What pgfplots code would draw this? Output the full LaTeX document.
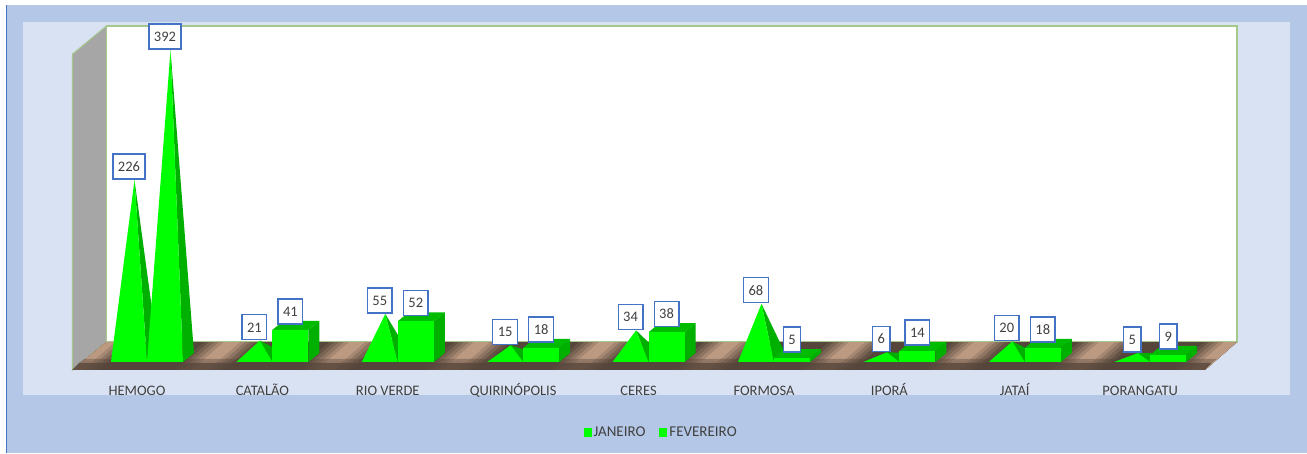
\documentclass[border=0pt]{standalone}
\usepackage{pgfplots}
\pgfplotsset{compat=1.18}
\usepackage{pgfplotstable}
\usepackage{fontspec}
\setmainfont{Carlito}
\definecolor{outer}{HTML}{B4C7E7}
\definecolor{inner}{HTML}{D9E2F3}
\definecolor{edgeb}{HTML}{4472C4}
\definecolor{wallg}{HTML}{A5C88C}
\definecolor{grayw}{HTML}{A6A6A6}
\definecolor{lime}{HTML}{00FF00}
\definecolor{limed}{HTML}{00B000}
\definecolor{tanc}{HTML}{BC9A82}
\definecolor{brn}{HTML}{55453A}
\definecolor{txt}{HTML}{404040}

\pgfplotstableread{
x y
0 226
1 21
2 55
3 15
4 34
5 68
6 6
7 20
8 5
}\janeiro
\pgfplotstableread{
x y
0 392
1 41
2 52
3 18
4 38
5 5
6 14
7 18
8 9
}\fevereiro

% one unit of x = 125.4 px, one unit of y = 0.783 px
\newcommand{\U}{125.4}
\newcommand{\V}{0.783}
% pyramid: #1 category, #2 -1 for first bar / 0 for second, #3 value
\newcommand{\pyr}[3]{%
  \pgfmathsetmacro\xa{#1+#2*36/\U}%
  \pgfmathsetmacro\xb{\xa+36/\U}%
  \pgfmathsetmacro\xc{\xb+11/\U}%
  \pgfmathsetmacro\xt{\xa+23.5/\U}%
  \pgfmathsetmacro\yt{#3+5/\V}%
  \pgfmathsetmacro\yc{9/\V}%
  \edef\tmp{%
  \noexpand\addplot[draw=none,fill=limed,forget plot] coordinates {(\xt,\yt) (\xb,0) (\xc,\yc)} --cycle;
  \noexpand\addplot[draw=none,fill=lime,forget plot] coordinates {(\xa,0) (\xb,0) (\xt,\yt)} --cycle;}%
  \tmp}
% box
\newcommand{\cub}[3]{%
  \pgfmathsetmacro\xa{#1+#2*36/\U}%
  \pgfmathsetmacro\xb{\xa+36/\U}%
  \pgfmathsetmacro\xc{\xb+11/\U}%
  \pgfmathsetmacro\xd{\xa+11/\U}%
  \pgfmathsetmacro\yc{9/\V}%
  \pgfmathsetmacro\yt{#3+9/\V}%
  \edef\tmp{%
  \noexpand\addplot[draw=none,fill=limed,forget plot] coordinates {(\xb,0) (\xc,\yc) (\xc,\yt) (\xb,#3)} --cycle;
  \noexpand\addplot[draw=none,fill=limed!85!lime,forget plot] coordinates {(\xa,#3) (\xb,#3) (\xc,\yt) (\xd,\yt)} --cycle;
  \noexpand\addplot[draw=none,fill=lime,forget plot] coordinates {(\xa,0) (\xb,0) (\xb,#3) (\xa,#3)} --cycle;}%
  \tmp}
% floor texture slice: #1 to #2 px on the front edge, #3 percentage of tan
\newcommand{\band}[3]{%
  \pgfmathsetmacro\sa{(#1-147)/\U}%
  \pgfmathsetmacro\sb{(#2-147)/\U}%
  \pgfmathsetmacro\sc{(#1+32-147)/\U}%
  \pgfmathsetmacro\sd{(#2+32-147)/\U}%
  \edef\tmp{\noexpand\fill[tanc!#3!brn] (axis cs:\sa,-10.2) -- (axis cs:\sb,-10.2) -- (axis cs:\sd,25.5) -- (axis cs:\sc,25.5) -- cycle;}%
  \tmp}
% one period of the texture around a tan band centred at #1
\newcommand{\period}[1]{%
  \pgfmathsetmacro\pa{#1-28}\pgfmathsetmacro\pb{#1-23}\pgfmathsetmacro\pc{#1-18}\pgfmathsetmacro\pd{#1-13}\pgfmathsetmacro\pe{#1-8}%
  \pgfmathsetmacro\qa{#1+8}\pgfmathsetmacro\qb{#1+13}\pgfmathsetmacro\qc{#1+18}\pgfmathsetmacro\qd{#1+23}\pgfmathsetmacro\qe{#1+28}%
  \band{\pa}{\qe}{15}\band{\pb}{\qd}{35}\band{\pc}{\qc}{55}\band{\pd}{\qb}{78}\band{\pe}{\qa}{100}}

\begin{document}
\begin{tikzpicture}
\path[use as bounding box] (0,0) rectangle (1307pt,453pt);
\fill[white] (0,0) rectangle (1307pt,453pt);
\fill[outer] (6pt,0) rectangle (1307pt,448pt);
\fill[edgeb] (5.5pt,0) rectangle (7pt,448pt);
\fill[inner] (23pt,58pt) rectangle (1290pt,431pt);
\begin{axis}[
  at={(0,0)},anchor=south west,
  scale only axis,width=1307pt,height=453pt,
  xmin=-1.1722,xmax=9.2504,
  ymin=-116.22,ymax=462.32,
  axis line style={draw=none},
  major tick length=0pt,
  ytick=\empty,
  xtick={0,...,8},
  xticklabels={HEMOGO,CATALÃO,RIO VERDE,QUIRINÓPOLIS,CERES,FORMOSA,IPORÁ,JATAÍ,PORANGATU},
  xticklabel style={font=\fontsize{14.5}{14.5}\selectfont,text=txt,anchor=center,text height=10pt,text depth=2pt,xshift=-10pt,yshift=62pt},
  clip=false,
  legend columns=2,
  legend style={at={(axis cs:4.10,-90.5)},anchor=center,draw=none,fill=none,font=\fontsize{15}{15}\selectfont,text=txt,
    /tikz/every even column/.style={column sep=12pt},inner sep=0pt},
  legend image code/.code={\fill[lime] (0pt,-4.5pt) rectangle (8pt,4.5pt);},
  legend cell align=left,
  every node near coord/.append style={font=\fontsize{14.5}{14.5}\selectfont,text=txt,fill=white,draw=edgeb,line width=1.3pt,
     anchor=south,yshift=6pt,inner xsep=5pt,minimum height=25pt,inner ysep=0pt,text height=10pt,text depth=0pt,outer sep=0pt},
]
% back wall
\addplot[fill=white,draw=wallg,line width=1.5pt,forget plot] coordinates {(-0.3246,25.5) (-0.3246,429) (8.692,429) (8.692,25.5)} --cycle;
% left wall
\addplot[fill=grayw,draw=wallg,line width=1pt,forget plot] coordinates {(-0.5957,-10.2) (-0.3246,25.5) (-0.3246,429) (-0.5957,393)} --cycle;
% floor
\fill[brn] (axis cs:-0.5957,-10.2) -- (axis cs:8.437,-10.2) -- (axis cs:8.692,25.5) -- (axis cs:-0.3246,25.5) -- cycle;
\begin{scope}
\clip (axis cs:-0.5957,-10.2) -- (axis cs:8.437,-10.2) -- (axis cs:8.692,25.5) -- (axis cs:-0.3246,25.5) -- cycle;
\period{75}\period{200}\period{325}\period{450}\period{575}\period{700}\period{825}\period{950}\period{1075}\period{1200}
\end{scope}
\fill[brn,opacity=0.85] (axis cs:-0.5957,-10.2) -- (axis cs:8.437,-10.2) -- (axis cs:8.49,-1) -- (axis cs:-0.54,-1) -- cycle;
\fill[brn,opacity=0.4] (axis cs:-0.54,-1) -- (axis cs:8.49,-1) -- (axis cs:8.53,4) -- (axis cs:-0.50,4) -- cycle;
% series
\pyr{0}{-1}{226}\pyr{0}{0}{392}
\pyr{1}{-1}{21}\cub{1}{0}{41}
\pyr{2}{-1}{55}\cub{2}{0}{52}
\pyr{3}{-1}{15}\cub{3}{0}{18}
\pyr{4}{-1}{34}\cub{4}{0}{38}
\pyr{5}{-1}{68}\cub{5}{0}{5}
\pyr{6}{-1}{6}\cub{6}{0}{14}
\pyr{7}{-1}{20}\cub{7}{0}{18}
\pyr{8}{-1}{5}\cub{8}{0}{9}
% labels
\addplot[draw=none,mark=none,nodes near coords,point meta=explicit symbolic,x filter/.expression={x-18/125.4}]
  table[x=x,y=y,meta=y] {\janeiro};
\addlegendentry{JANEIRO}
\addplot[draw=none,mark=none,nodes near coords,point meta=explicit symbolic,x filter/.expression={x+18/125.4}]
  table[x=x,y=y,meta=y] {\fevereiro};
\addlegendentry{FEVEREIRO}
\end{axis}
\end{tikzpicture}
\end{document}
